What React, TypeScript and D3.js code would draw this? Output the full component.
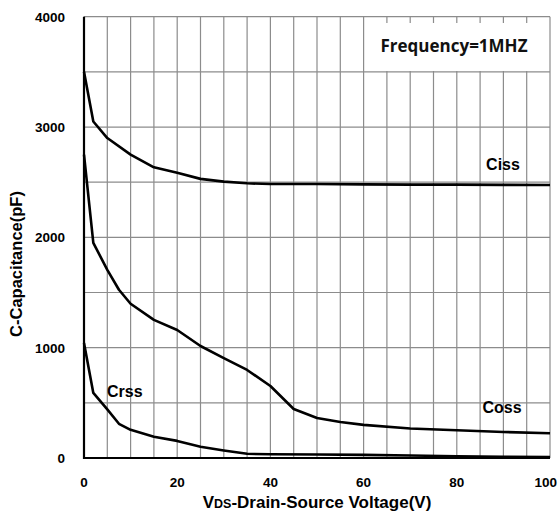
import React from "react";
import * as d3 from "d3";

const voltsCiss = [0, 2, 5, 10, 15, 20, 25, 30, 35, 40, 50, 60, 70, 80, 90, 100];
const ciss = [3500, 3050, 2900, 2750, 2635, 2585, 2530, 2505, 2490, 2483, 2483, 2480, 2478, 2478, 2476, 2475];
const voltsCoss = [0, 2, 5, 7.5, 10, 15, 20, 25, 30, 35, 40, 45, 50, 55, 60, 70, 80, 90, 100];
const coss = [2750, 1950, 1705, 1525, 1398, 1252, 1160, 1015, 906, 798, 653, 444, 363, 326, 300, 268, 252, 236, 224];
const voltsCrss = [0, 2, 5, 7.5, 10, 15, 20, 25, 30, 35, 40, 50, 60, 70, 80, 90, 100];
const crss = [1042, 590, 440, 310, 255, 192, 155, 102, 68, 38, 34, 32, 28, 22, 16, 12, 9];
const xTicks = [0, 20, 40, 60, 80, 100];
const yTicks = [0, 1000, 2000, 3000, 4000];

export default function App() {
  const W = 558, H = 515;
  const L = 84, R = 550, T = 16.7, B = 458;
  const x = d3.scaleLinear().domain([0, 100]).range([L, R]);
  const y = d3.scaleLinear().domain([0, 4000]).range([B, T]);
  const line = d3.line<[number, number]>().x(d => x(d[0])).y(d => y(d[1]));
  const mk = (vs: number[], cs: number[]) => line(vs.map((v, i) => [v, cs[i]] as [number, number])) || "";
  const vGrid = d3.range(0, 101, 5);
  const hGrid = d3.range(0, 4001, 500);
  const font = "Arial, 'Liberation Sans', sans-serif";
  return (
    <svg width={W} height={H} style={{ position: "absolute", left: 0, top: 0, background: "#fff" }}>
      <rect x={0} y={0} width={W} height={H} fill="#fff" />
      {vGrid.map(v => (
        <line key={"v" + v} x1={x(v)} x2={x(v)} y1={T} y2={B} stroke="#8c8c8c" strokeWidth={1.2} />
      ))}
      {hGrid.map(v => (
        <line key={"h" + v} x1={L} x2={R} y1={y(v)} y2={y(v)} stroke="#8c8c8c" strokeWidth={1.2} />
      ))}
      <rect x={365} y={23} width={184} height={48} fill="#fff" />
      <text x={454} y={52} textAnchor="middle" fontFamily="'Open Sans', sans-serif" fontWeight="bold" fontSize={17} fill="#111">Frequency=1MHZ</text>
      <line x1={L} x2={L} y1={T} y2={B + 1} stroke="#000" strokeWidth={2.2} />
      <line x1={L - 1} x2={R} y1={B} y2={B} stroke="#000" strokeWidth={2.2} />
      <path d={mk(voltsCiss, ciss)} fill="none" stroke="#000" strokeWidth={2.6} strokeLinejoin="round" />
      <path d={mk(voltsCoss, coss)} fill="none" stroke="#000" strokeWidth={2.6} strokeLinejoin="round" />
      <path d={mk(voltsCrss, crss)} fill="none" stroke="#000" strokeWidth={2.6} strokeLinejoin="round" />
      {yTicks.map(v => (
        <text key={"yt" + v} x={65} y={y(v) + 5} textAnchor="end" fontFamily={font} fontWeight="bold" fontSize={13.5}>{v}</text>
      ))}
      {xTicks.map(v => (
        <text key={"xt" + v} x={v === 100 ? 557 : x(v)} y={487} textAnchor={v === 100 ? "end" : "middle"} fontFamily={font} fontWeight="bold" fontSize={13.5}>{v}</text>
      ))}
      <text x={503} y={170} textAnchor="middle" fontFamily={font} fontWeight="bold" fontSize={16}>Ciss</text>
      <text x={502} y={413} textAnchor="middle" fontFamily={font} fontWeight="bold" fontSize={16}>Coss</text>
      <text x={107} y={397} textAnchor="start" fontFamily={font} fontWeight="bold" fontSize={16}>Crss</text>
      <text x={317} y={508} textAnchor="middle" fontFamily={font} fontWeight="bold" fontSize={17}>
        V<tspan fontSize={12.5}>DS</tspan>-Drain-Source Voltage(V)
      </text>
      <text transform={`translate(22,264) rotate(-90)`} textAnchor="middle" fontFamily={font} fontWeight="bold" fontSize={16.5}>C-Capacitance(pF)</text>
    </svg>
  );
}
